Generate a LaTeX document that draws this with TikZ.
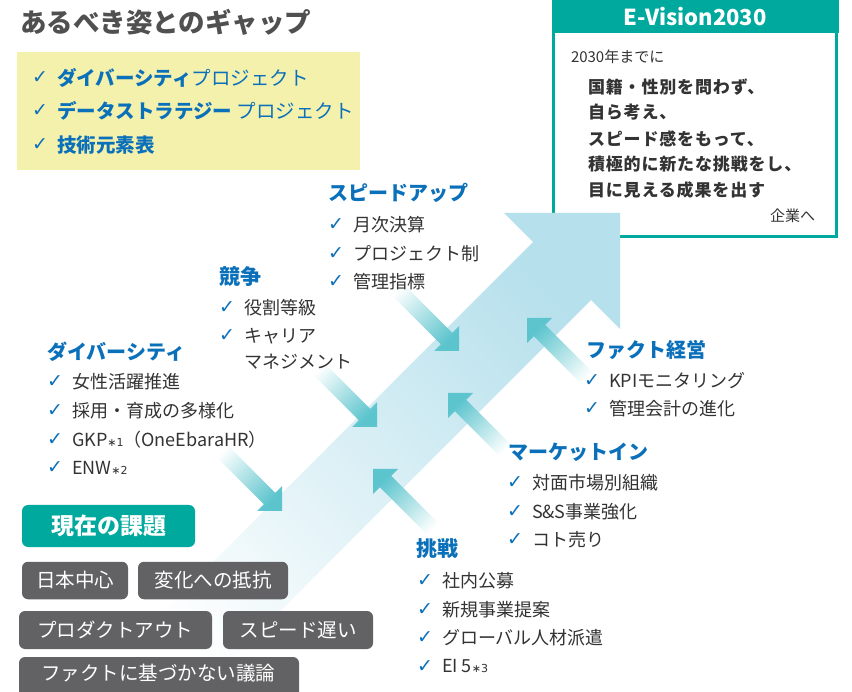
\documentclass[tikz,border=0pt]{standalone}
\usepackage{fontspec}
\setmainfont{Noto Sans CJK JP}
\newfontfamily\chkfont{DejaVu Sans}
\newfontfamily\vfont[LetterSpace=5]{Noto Sans CJK JP}
\definecolor{jblue}{HTML}{0B70BA}
\definecolor{txtgray}{HTML}{333333}
\definecolor{titlegray}{HTML}{505050}
\definecolor{tealc}{HTML}{00A99D}
\definecolor{issuegray}{HTML}{626264}
\definecolor{yellowbg}{HTML}{F4F1AD}
\definecolor{bandblue}{HTML}{B6E0EC}
\definecolor{arrteal}{HTML}{5CC4CD}
\tikzset{
  every node/.style={inner sep=0pt, outer sep=0pt},
  heading/.style={anchor=west, text=jblue, font=\fontsize{20}{20}\selectfont\bfseries},
  itemtxt/.style={anchor=west, text=txtgray, font=\fontsize{18}{18}\selectfont},
  chkmark/.style={anchor=center, text=jblue, font=\chkfont\bfseries\fontsize{19}{19}\selectfont},
  ychk/.style={anchor=center, text=jblue, font=\chkfont\bfseries\fontsize{19}{19}\selectfont},
  yitem/.style={anchor=west, text=jblue, font=\fontsize{19.5}{19.5}\selectfont},
  issue/.style={fill=issuegray, rounded corners=6pt, text=white, font=\fontsize{19.5}{19.5}\selectfont},
  vtxt/.style={anchor=west, text=txtgray, font=\vfont\fontsize{17}{17}\selectfont\bfseries},
  vsmall/.style={anchor=west, text=txtgray, font=\fontsize{15}{15}\selectfont},
  drshade/.style={top color=white, bottom color=arrteal, shading angle=45},
  ulshade/.style={top color=arrteal, bottom color=white, shading angle=45},
}
\newcommand\noteast[1]{{\chkfont\fontsize{11}{11}\selectfont ∗#1}}
\newcommand\chkitem[4]{%
  \node[chkmark] (#1c) at (#2-17,#3) {✓};
  \node[itemtxt] (#1) at (#2,#3) {#4};}
% down-right arrow: corner x, corner y, tail length T
\newcommand\drarrow[3]{%
  \path[drshade] (#1,#2) -- ++(0,-25) -- ++(-6.84,6.84) -- ++(-#3,-#3)
    -- ++(-11.32,11.32) -- ++(#3,#3) -- ++(-6.84,6.84) -- cycle;}
% up-left arrow
\newcommand\ularrow[3]{%
  \path[ulshade] (#1,#2) -- ++(0,25) -- ++(6.84,-6.84) -- ++(#3,#3)
    -- ++(11.32,-11.32) -- ++(-#3,-#3) -- ++(6.84,-6.84) -- cycle;}
\begin{document}
\begin{tikzpicture}[x=1pt,y=-1pt]
\useasboundingbox (0,0) rectangle (852,692);
\fill[white] (0,0) rectangle (852,692);

% title
\node[anchor=west, text=titlegray, font=\fontsize{26.5}{26.5}\selectfont\bfseries] (title) at (20,22) {あるべき姿とのギャップ};

% yellow box
\node[fill=yellowbg, minimum width=343, minimum height=118, anchor=north west] (ybox) at (17,52) {};
\node[ychk] (y1c) at (40,78) {✓};
\node[yitem] (y1) at (57,78) {\textbf{ダイバーシティ}プロジェクト};
\node[ychk] (y2c) at (40,111) {✓};
\node[yitem] (y2) at (57,111) {\textbf{データストラテジー} プロジェクト};
\node[ychk] (y3c) at (40,145) {✓};
\node[yitem] (y3) at (57,145) {\textbf{技術元素表}};

% E-Vision box
\node[draw=tealc, line width=3pt, fill=white, minimum width=283, minimum height=235, anchor=north west] (vbox) at (553.5,1.5) {};
\fill[tealc] (552,0) rectangle (839,33);
\node[text=white, font=\fontsize{22}{22}\selectfont\bfseries] (vtitle) at (695,16.5) {E-Vision2030};
\node[vsmall] (v0) at (571,57) {2030年までに};
\node[vtxt] (v1) at (588,87) {国籍・性別を問わず、};
\node[vtxt] (v2) at (588,112.5) {自ら考え、};
\node[vtxt] (v3) at (588,138.5) {スピード感をもって、};
\node[vtxt] (v4) at (588,164.5) {積極的に新たな挑戦をし、};
\node[vtxt] (v5) at (588,190) {目に見える成果を出す};
\node[vsmall, anchor=east] (v6) at (815,216) {企業へ};

% big arrow band
\path[top color=bandblue, bottom color=white, shading angle=-45]
  (83,692) -- (533,242) -- (504,213) -- (620,213) -- (620,329) -- (591,300) -- (199,692) -- cycle;

% small arrows
\drarrow{459}{351}{54}
\drarrow{377}{427}{50}
\drarrow{282}{511}{52}
\ularrow{527}{318}{52}
\ularrow{448}{393}{49}
\ularrow{373}{469}{52}

% headings and lists
\node[heading] (hsp) at (328,193) {スピードアップ};
\chkitem{sp1}{353}{225}{月次決算}
\chkitem{sp2}{353}{253.5}{プロジェクト制}
\chkitem{sp3}{353}{282}{管理指標}

\node[heading, font=\fontsize{21}{21}\selectfont\bfseries] (hko) at (219,277) {競争};
\chkitem{ko1}{244}{308}{役割等級}
\chkitem{ko2}{244}{336}{キャリア}
\node[itemtxt] (ko3) at (244,362) {マネジメント};

\node[heading] (hdi) at (47,352) {ダイバーシティ};
\chkitem{di1}{72}{382}{女性活躍推進}
\chkitem{di2}{72}{410.5}{採用・育成の多様化}
\chkitem{di3}{72}{439.5}{GKP\noteast{1}（OneEbaraHR）}
\chkitem{di4}{72}{468}{ENW\noteast{2}}

\node[heading] (hfa) at (586,350) {ファクト経営};
\chkitem{fa1}{609}{380.5}{KPIモニタリング}
\chkitem{fa2}{609}{408.5}{管理会計の進化}

\node[heading] (hma) at (508,452) {マーケットイン};
\chkitem{ma1}{532}{483}{対面市場別組織}
\chkitem{ma2}{532}{511.5}{S\&S事業強化}
\chkitem{ma3}{532}{540}{コト売り}

\node[heading, font=\fontsize{21}{21}\selectfont\bfseries] (hch) at (416,549) {挑戦};
\chkitem{ch1}{442}{581}{社内公募}
\chkitem{ch2}{442}{609.5}{新規事業提案}
\chkitem{ch3}{442}{638}{グローバル人材派遣}
\chkitem{ch4}{442}{666.5}{EI 5\noteast{3}}

% current issues
\node[fill=tealc, rounded corners=6pt, minimum width=173, minimum height=42, text=white, font=\fontsize{23}{23}\selectfont\bfseries] (kadai) at (108.5,526) {現在の課題};
\node[issue, minimum width=106, minimum height=37.5] (i1) at (75,580.5) {日本中心};
\node[issue, minimum width=150, minimum height=37.5] (i2) at (213,580.5) {変化への抵抗};
\node[issue, minimum width=193, minimum height=38] (i3) at (115.5,630) {プロダクトアウト};
\node[issue, minimum width=150, minimum height=38] (i4) at (298,630) {スピード遅い};
\node[issue, minimum width=280, minimum height=44, anchor=north west] (i5) at (19,657) {};
\node[text=white, font=\fontsize{19.5}{19.5}\selectfont] (i5t) at (158.5,673.5) {ファクトに基づかない議論};
\end{tikzpicture}
\end{document}
